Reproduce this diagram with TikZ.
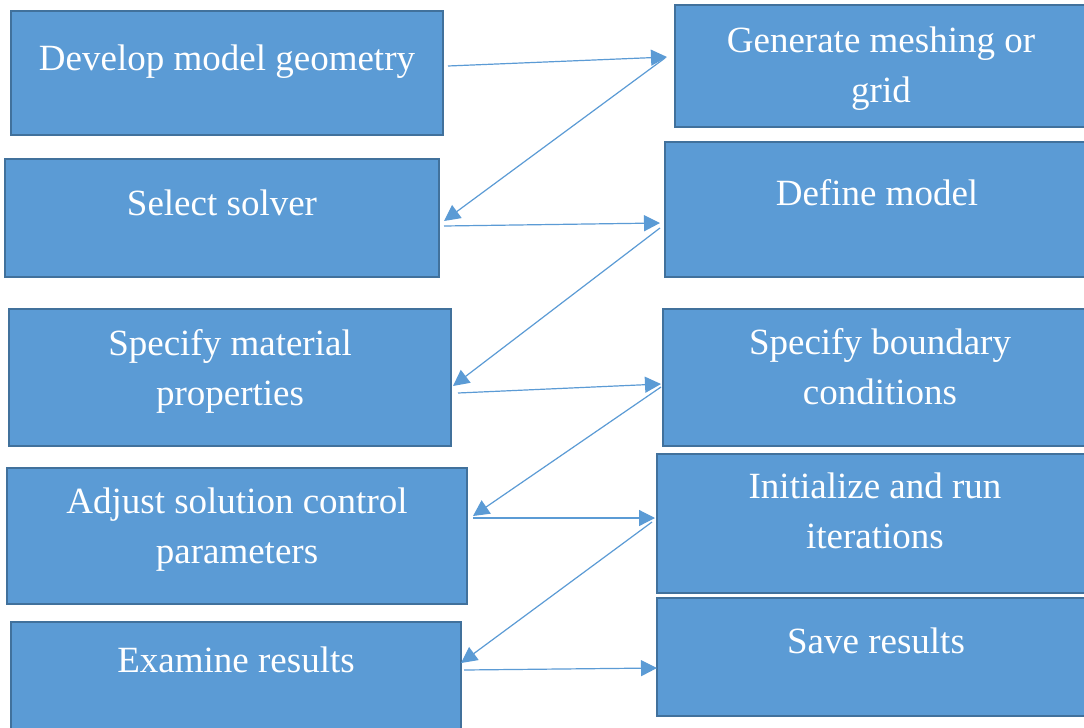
\documentclass[tikz,border=0pt]{standalone}
\usepackage{fontspec}
\setmainfont{Liberation Serif}
\usetikzlibrary{arrows.meta}
\definecolor{boxfill}{HTML}{5B9BD5}
\definecolor{boxedge}{HTML}{41719C}
\definecolor{linkblue}{HTML}{5B9BD5}
\newcommand{\twolines}[2]{\begin{tabular}[t]{@{}c@{}}#1\\#2\end{tabular}}
\begin{document}
\begin{tikzpicture}[x=1pt,y=-1pt,
  stepbox/.style={draw=boxedge,fill=boxfill,line width=2pt,rectangle,
    anchor=north west,inner sep=0pt,outer sep=0pt},
  boxtext/.style={anchor=base,text=white,inner sep=0pt,
    font=\fontsize{37}{50}\selectfont},
  link/.style={draw=linkblue,line width=1.2pt,
    -{Triangle[length=16pt,width=16pt]}}]
\useasboundingbox (0,0) rectangle (1084,728);
\clip (0,0) rectangle (1084,728);
\fill[white] (0,0) rectangle (1084,728);

% left column
\node[stepbox,minimum width=432pt,minimum height=124pt] (b1) at (11,11) {};
\node[stepbox,minimum width=434pt,minimum height=118pt] (b3) at (5,159) {};
\node[stepbox,minimum width=442pt,minimum height=137pt] (b5) at (9,309) {};
\node[stepbox,minimum width=460pt,minimum height=136pt] (b7) at (7,468) {};
\node[stepbox,minimum width=450pt,minimum height=118pt] (b9) at (11,622) {};
% right column (runs past the right edge)
\node[stepbox,minimum width=440pt,minimum height=122pt] (b2) at (675,5) {};
\node[stepbox,minimum width=450pt,minimum height=135pt] (b4) at (665,142) {};
\node[stepbox,minimum width=452pt,minimum height=137pt] (b6) at (663,309) {};
\node[stepbox,minimum width=458pt,minimum height=139pt] (b8) at (657,454) {};
\node[stepbox,minimum width=458pt,minimum height=118pt] (b10) at (657,598) {};

% labels
\node[boxtext] (t1) at (227,70) {Develop model geometry};
\node[boxtext] (t2) at (881,52) {\twolines{Generate meshing or}{grid}};
\node[boxtext] (t3) at (222,215) {Select solver};
\node[boxtext] (t4) at (877,205) {Define model};
\node[boxtext] (t5) at (230,355) {\twolines{Specify material}{properties}};
\node[boxtext] (t6) at (880,354) {\twolines{Specify boundary}{conditions}};
\node[boxtext] (t7) at (237,513) {\twolines{Adjust solution control}{parameters}};
\node[boxtext] (t8) at (875,498) {\twolines{Initialize and run}{iterations}};
\node[boxtext] (t9) at (236,672) {Examine results};
\node[boxtext] (t10) at (876,653) {Save results};

% connector ends, set off from the box sides
\coordinate (a1s) at ([shift={(5,-7)}]b1.east);
\coordinate (a1e) at ([shift={(-8,-9)}]b2.west);
\coordinate (a2s) at ([shift={(-10,-8)}]b2.west);
\coordinate (a2e) at ([shift={(5,3)}]b3.east);
\coordinate (a3s) at ([shift={(5,8)}]b3.east);
\coordinate (a3e) at ([shift={(-5,13.5)}]b4.west);
\coordinate (a4s) at ([shift={(-5,18.5)}]b4.west);
\coordinate (a4e) at ([shift={(2,8.5)}]b5.east);
\coordinate (a5s) at ([shift={(7,15.5)}]b5.east);
\coordinate (a5e) at ([shift={(-2,6.5)}]b6.west);
\coordinate (a6s) at ([shift={(-2,9.5)}]b6.west);
\coordinate (a6e) at ([shift={(6,-20)}]b7.east);
\coordinate (a7s) at ([shift={(6,-18)}]b7.east);
\coordinate (a7e) at ([shift={(-2,-5.5)}]b8.west);
\coordinate (a8s) at ([shift={(-5,-1.5)}]b8.west);
\coordinate (a8e) at ([shift={(0,-18)}]b9.east);
\coordinate (a9s) at ([shift={(3,-11)}]b9.east);
\coordinate (a9e) at ([shift={(0,11)}]b10.west);

% zig-zag flow
\draw[link] (a1s) -- (a1e);
\draw[link] (a2s) -- (a2e);
\draw[link] (a3s) -- (a3e);
\draw[link] (a4s) -- (a4e);
\draw[link] (a5s) -- (a5e);
\draw[link] (a6s) -- (a6e);
\draw[link] (a7s) -- (a7e);
\draw[link] (a8s) -- (a8e);
\draw[link] (a9s) -- (a9e);
\end{tikzpicture}
\end{document}
